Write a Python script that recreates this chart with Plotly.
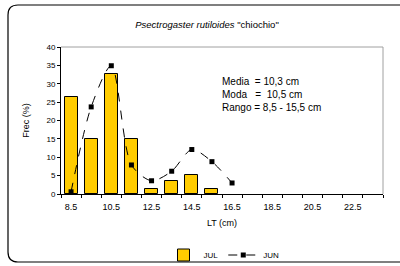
import plotly.graph_objects as go

categories = [8.5, 9.5, 10.5, 11.5, 12.5, 13.5, 14.5, 15.5, 16.5, 17.5, 18.5, 19.5, 20.5, 21.5, 22.5, 23.5]
jul = [26.4, 14.9, 32.6, 15.0, 1.3, 3.5, 5.1, 1.3, None, None, None, None, None, None, None, None]
jun_x = [8.5, 9.5, 10.5, 11.5, 12.5, 13.5, 14.5, 15.5, 16.5]
jun = [0.6, 23.7, 34.9, 7.9, 3.6, 6.2, 12.1, 8.8, 3.0]
tick_labels = ["8.5", "10.5", "12.5", "14.5", "16.5", "18.5", "20.5", "22.5"]
tick_vals = [8.5, 10.5, 12.5, 14.5, 16.5, 18.5, 20.5, 22.5]

L, R, T, B = 61, 17, 47, 72
W, H = 400, 266
pw, ph = W - L - R, H - T - B

def px(x):
    return (x - L) / pw

def py(y):
    return (H - B - y) / ph

fig = go.Figure()
fig.add_trace(go.Bar(x=categories, y=jul, name="JUL", width=0.65,
                     marker=dict(color="#FFCC00", line=dict(color="black", width=1))))
fig.add_trace(go.Scatter(x=jun_x, y=jun, name="JUN", mode="lines+markers",
                         line=dict(color="black", width=1, dash="dash", shape="spline", smoothing=0.8),
                         marker=dict(symbol="square", size=5, color="black")))

# outer rounded frame
x0, x1 = px(8), px(410)
y0, y1 = py(262), py(5)
rx, ry = 10 / pw, 10 / ph
path = (f"M {x0+rx},{y1} L {x1},{y1} M {x0+rx},{y0} L {x1},{y0} "
        f"M {x0+rx},{y1} Q {x0},{y1} {x0},{y1-ry} L {x0},{y0+ry} Q {x0},{y0} {x0+rx},{y0}")
fig.add_shape(type="path", path=path, xref="paper", yref="paper",
              line=dict(color="black", width=1.2), layer="below")

fig.add_annotation(text="Media  = 10,3 cm<br>Moda   =  10,5 cm<br>Rango = 8,5 - 15,5 cm",
                   xref="paper", yref="paper", x=px(220), y=py(74), xanchor="left", yanchor="top",
                   showarrow=False, align="left", font=dict(size=10, color="black"))

fig.update_layout(
    width=W, height=H, margin=dict(l=L, r=R, t=T, b=B, autoexpand=False),
    paper_bgcolor="white", plot_bgcolor="white",
    font=dict(family="Liberation Sans, Arial, sans-serif", color="black"),
    title=dict(text="<i>Psectrogaster rutiloides</i> \"chiochio\"", x=207 / W, xref="container",
               xanchor="center", y=1 - 25 / H, yanchor="middle", font=dict(size=9.5)),
    showlegend=True, bargap=0,
    legend=dict(orientation="h", x=224 / W, xanchor="center", xref="container",
                y=1 - 255 / H, yanchor="middle", yref="container",
                font=dict(size=8), itemwidth=30, tracegroupgap=0, bgcolor="rgba(0,0,0,0)"),
    xaxis=dict(range=[8, 24], tickmode="array", tickvals=tick_vals, ticktext=tick_labels,
               ticks="", showgrid=False, zeroline=False, showline=True, linecolor="black",
               linewidth=1, mirror=False, tickfont=dict(size=9), automargin=False,
               ticklabelstandoff=4,
               minor=dict(tickmode="linear", tick0=8, dtick=1, ticks="outside", ticklen=3,
                          tickcolor="black", showgrid=False),
               title=dict(text="LT (cm)", font=dict(size=9), standoff=8)),
    yaxis=dict(range=[0, 40], dtick=5, ticks="outside", ticklen=3, tickcolor="black",
               showgrid=False, zeroline=False, showline=True, linecolor="black", linewidth=1,
               tickfont=dict(size=8), automargin=False,
               title=dict(text="Frec (%)", font=dict(size=9), standoff=15)),
)
# top and right gray frame of plot area
fig.add_shape(type="path", path="M 0,1 L 1,1 L 1,0", xref="paper", yref="paper",
              line=dict(color="#A0A0A0", width=1))

fig.write_html("out.html", config={"displayModeBar": False},
               post_script="document.body.style.margin='0px';document.body.style.overflow='hidden';")
